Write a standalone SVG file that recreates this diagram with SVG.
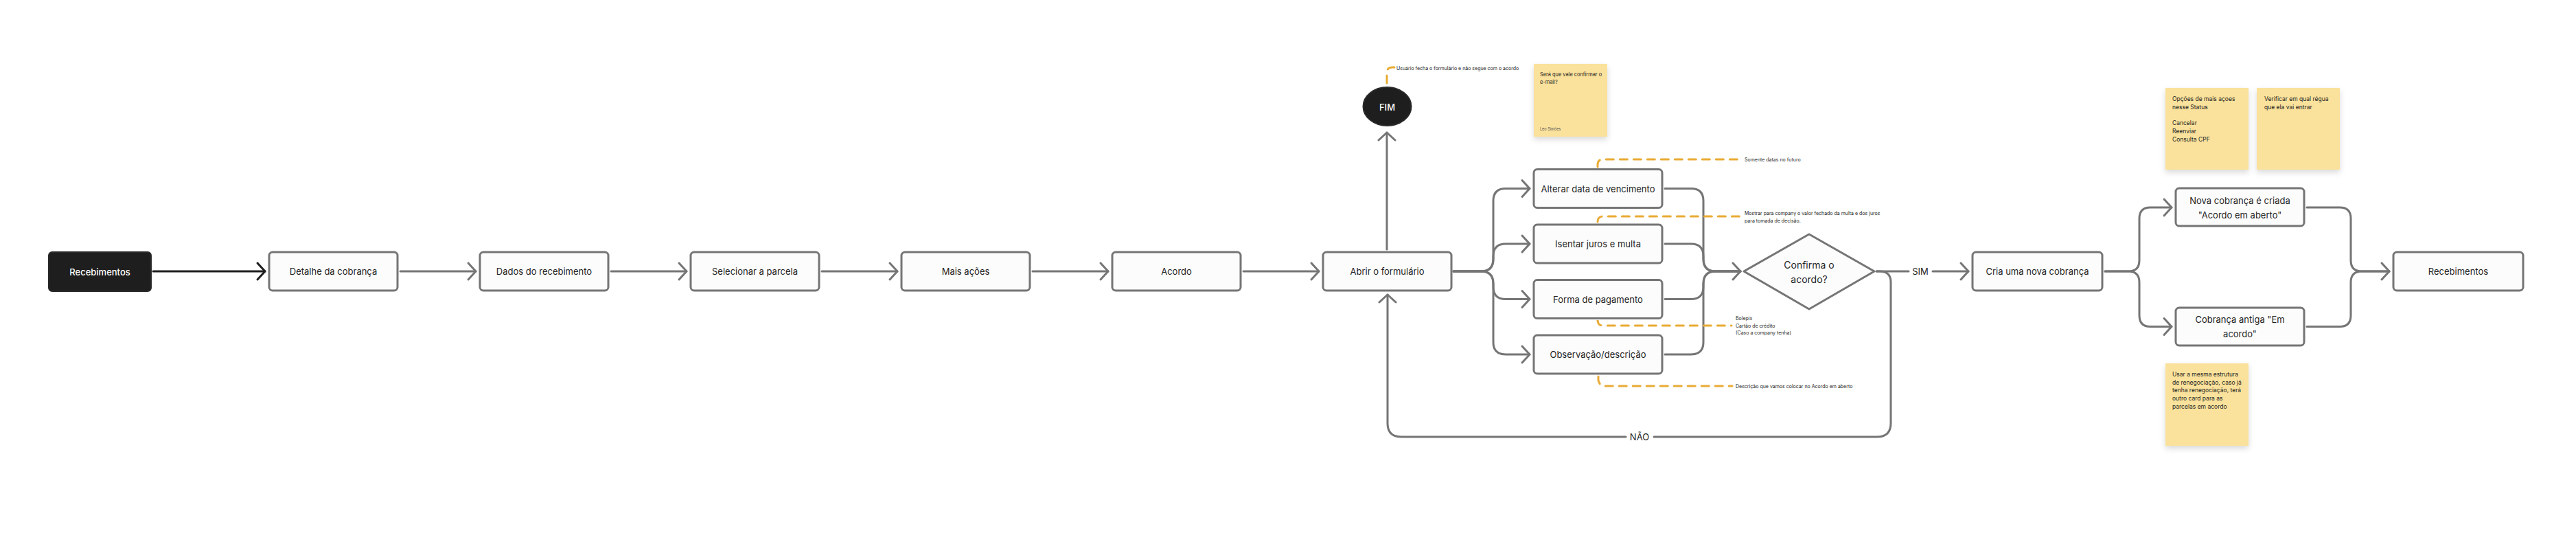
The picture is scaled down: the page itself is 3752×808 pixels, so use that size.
<svg xmlns="http://www.w3.org/2000/svg" width="3752" height="808" viewBox="0 0 3752 808">
<style>
.box{fill:#fcfcfc;stroke:#757575;stroke-width:3}
.dark{fill:#1e1e1e;stroke:#2a2a2a;stroke-width:2}
.lbl{font-family:Inter,"Liberation Sans",sans-serif;font-size:13px;fill:#1e1e1e;text-anchor:middle;dominant-baseline:central}
.wlbl{font-family:Inter,"Liberation Sans",sans-serif;font-size:13px;font-weight:500;fill:#ffffff;text-anchor:middle;dominant-baseline:central}
.con{fill:none;stroke:#757575;stroke-width:3;stroke-linecap:round;stroke-linejoin:round}
.conb{fill:none;stroke:#1e1e1e;stroke-width:3;stroke-linecap:round}
.note{fill:none;stroke:#e9ab35;stroke-width:3;stroke-linecap:round;stroke-dasharray:11 9}
.ann{font-family:Inter,"Liberation Sans",sans-serif;font-size:7px;fill:#1e1e1e;dominant-baseline:central}
.stk{fill:#fae29c}
.stxt{font-family:Inter,"Liberation Sans",sans-serif;font-size:8.5px;fill:#1e1e1e;dominant-baseline:central}
.stxt1{font-family:Inter,"Liberation Sans",sans-serif;font-size:7.4px;fill:#1e1e1e;dominant-baseline:central}
.auth{font-family:Inter,"Liberation Sans",sans-serif;font-size:5.5px;fill:#555555;dominant-baseline:central}
</style>
<defs>
<marker id="ah" viewBox="-15 -15 30 30" markerWidth="30" markerHeight="30" refX="0" refY="0" orient="auto" markerUnits="userSpaceOnUse">
<path d="M-11,-12 L0,0 L-11,12" fill="none" stroke="#757575" stroke-width="3" stroke-linecap="round" stroke-linejoin="round"/>
</marker>
<marker id="ahb" viewBox="-15 -15 30 30" markerWidth="30" markerHeight="30" refX="0" refY="0" orient="auto" markerUnits="userSpaceOnUse">
<path d="M-11,-12 L0,0 L-11,12" fill="none" stroke="#1e1e1e" stroke-width="3" stroke-linecap="round" stroke-linejoin="round"/>
</marker>
<filter id="sh" x="-20%" y="-20%" width="140%" height="150%">
<feDropShadow dx="0" dy="4" stdDeviation="4" flood-color="#000000" flood-opacity="0.15"/>
</filter>
</defs>
<rect width="3752" height="808" fill="#ffffff"/>

<g id="connectors">
<path class="conb" d="M223,395 H386" marker-end="url(#ahb)"/>
<path class="con" d="M583,395 H693" marker-end="url(#ah)"/>
<path class="con" d="M890,395 H1000" marker-end="url(#ah)"/>
<path class="con" d="M1197,395 H1307" marker-end="url(#ah)"/>
<path class="con" d="M1504,395 H1614" marker-end="url(#ah)"/>
<path class="con" d="M1811,395 H1921" marker-end="url(#ah)"/>
<path class="con" d="M2020,363 V193" marker-end="url(#ah)"/>
<path class="con" d="M2117,395 H2157 Q2175,395 2175,377 V292.5 Q2175,274.5 2193,274.5 H2228" marker-end="url(#ah)"/>
<path class="con" d="M2117,395 H2157 Q2175,395 2175,377 V373 Q2175,355 2193,355 H2228" marker-end="url(#ah)"/>
<path class="con" d="M2117,395 H2157 Q2175,395 2175,413 V417.5 Q2175,435.5 2193,435.5 H2228" marker-end="url(#ah)"/>
<path class="con" d="M2117,395 H2157 Q2175,395 2175,413 V498 Q2175,516 2193,516 H2228" marker-end="url(#ah)"/>
<path class="con" d="M2425,274.5 H2463 Q2481,274.5 2481,292.5 V377 Q2481,395 2499,395 H2535" marker-end="url(#ah)"/>
<path class="con" d="M2425,355 H2463 Q2481,355 2481,373 V377 Q2481,395 2499,395 H2535"/>
<path class="con" d="M2425,435.5 H2463 Q2481,435.5 2481,417.5 V413 Q2481,395 2499,395 H2535"/>
<path class="con" d="M2425,516 H2463 Q2481,516 2481,498 V413 Q2481,395 2499,395 H2535"/>
<path class="con" d="M2733,395 H2780"/>
<path class="con" d="M2815,395 H2867" marker-end="url(#ah)"/>
<text class="lbl" x="2797" y="395">SIM</text>
<path class="con" d="M2733,395 H2738 Q2754,395 2754,411 V616 Q2754,636 2734,636 H2409"/>
<path class="con" d="M2368,636 H2041 Q2021,636 2021,616 V429" marker-end="url(#ah)"/>
<text class="lbl" x="2388" y="636">NÃO</text>
<path class="con" d="M3066,395 H3100 Q3116,395 3116,379 V318 Q3116,302 3132,302 H3163" marker-end="url(#ah)"/>
<path class="con" d="M3066,395 H3100 Q3116,395 3116,411 V459 Q3116,475.5 3132,475.5 H3163" marker-end="url(#ah)"/>
<path class="con" d="M3360,302 H3408 Q3424,302 3424,318 V379 Q3424,395 3440,395 H3480" marker-end="url(#ah)"/>
<path class="con" d="M3360,475.5 H3408 Q3424,475.5 3424,459 V411 Q3424,395 3440,395 H3480"/>
</g>

<g id="annotations">
<path class="note" d="M2020,121 V106 Q2020,98 2028,98 H2031"/>
<text class="ann" x="2034" y="99">Usuário fecha o formulário e não segue com o acordo</text>
<path class="note" d="M2327,243 V240 Q2327,232 2335,232 H2535"/>
<text class="ann" x="2541" y="232">Somente datas no futuro</text>
<path class="note" d="M2327,323 V323 Q2327,315 2335,315 H2535"/>
<text class="ann" x="2541" y="310">Mostrar para company o valor fechado da multa e dos juros</text>
<text class="ann" x="2541" y="321">para tomada de decisão.</text>
<path class="note" d="M2327,467 V466 Q2327,474 2335,474 H2522"/>
<text class="ann" x="2528" y="463">Bolepix</text>
<text class="ann" x="2528" y="474">Cartão de crédito</text>
<text class="ann" x="2528" y="484">(Caso a company tenha)</text>
<path class="note" d="M2328,548 V554 Q2330,562 2338,562 H2523"/>
<text class="ann" x="2528" y="562">Descrição que vamos colocar no Acordo em aberto</text>
</g>

<g id="n-recebimentos">
<rect class="dark" x="71" y="367" width="149" height="57" rx="5"/>
<text class="wlbl" x="145.5" y="395.5">Recebimentos</text>
</g>
<g id="n-detalhe">
<rect class="box" x="392" y="367" width="187" height="56" rx="5"/>
<text class="lbl" x="485.5" y="395">Detalhe da cobrança</text>
</g>
<g id="n-dados">
<rect class="box" x="699" y="367" width="187" height="56" rx="5"/>
<text class="lbl" x="792.5" y="395">Dados do recebimento</text>
</g>
<g id="n-selecionar">
<rect class="box" x="1006" y="367" width="187" height="56" rx="5"/>
<text class="lbl" x="1099.5" y="395">Selecionar a parcela</text>
</g>
<g id="n-mais">
<rect class="box" x="1313" y="367" width="187" height="56" rx="5"/>
<text class="lbl" x="1406.5" y="395">Mais ações</text>
</g>
<g id="n-acordo">
<rect class="box" x="1620" y="367" width="187" height="56" rx="5"/>
<text class="lbl" x="1713.5" y="395">Acordo</text>
</g>
<g id="n-abrir">
<rect class="box" x="1927" y="367" width="187" height="56" rx="5"/>
<text class="lbl" x="2020.5" y="395">Abrir o formulário</text>
</g>
<g id="n-fim">
<ellipse cx="2020.5" cy="155" rx="35" ry="28" fill="#1e1e1e" stroke="#2a2a2a" stroke-width="2"/>
<text class="wlbl" x="2020.5" y="155.5">FIM</text>
</g>
<g id="n-alterar">
<rect class="box" x="2234" y="246.5" width="187" height="56" rx="5"/>
<text class="lbl" x="2327.5" y="274.5">Alterar data de vencimento</text>
</g>
<g id="n-isentar">
<rect class="box" x="2234" y="327" width="187" height="56" rx="5"/>
<text class="lbl" x="2327.5" y="355">Isentar juros e multa</text>
</g>
<g id="n-forma">
<rect class="box" x="2234" y="407.5" width="187" height="56" rx="5"/>
<text class="lbl" x="2327.5" y="435.5">Forma de pagamento</text>
</g>
<g id="n-obs">
<rect class="box" x="2234" y="488" width="187" height="56" rx="5"/>
<text class="lbl" x="2327.5" y="516">Observação/descrição</text>
</g>
<g id="n-confirma">
<path class="box" stroke-linejoin="round" d="M2540,395 L2635,341 L2730,395 L2635,450 Z"/>
<text class="lbl" style="font-size:14px" x="2635" y="385">Confirma o</text>
<text class="lbl" style="font-size:14px" x="2635" y="406">acordo?</text>
</g>
<g id="n-cria">
<rect class="box" x="2873" y="367" width="189" height="56" rx="5"/>
<text class="lbl" x="2967.5" y="395">Cria uma nova cobrança</text>
</g>
<g id="n-nova">
<rect class="box" x="3169" y="274" width="187" height="55" rx="5"/>
<text class="lbl" x="3262.5" y="292">Nova cobrança é criada</text>
<text class="lbl" x="3262.5" y="313">"Acordo em aberto"</text>
</g>
<g id="n-antiga">
<rect class="box" x="3169" y="448" width="187" height="55" rx="5"/>
<text class="lbl" x="3262.5" y="465">Cobrança antiga "Em</text>
<text class="lbl" x="3262.5" y="486">acordo"</text>
</g>
<g id="n-recebimentos2">
<rect class="box" x="3486" y="367" width="189" height="56" rx="5"/>
<text class="lbl" x="3580.5" y="395">Recebimentos</text>
</g>

<g id="sticky-email">
<rect class="stk" x="2234" y="93" width="107" height="106" filter="url(#sh)"/>
<text class="stxt1" x="2243" y="108">Será que vale confirmar o</text>
<text class="stxt1" x="2243" y="119">e-mail?</text>
<text class="auth" x="2243" y="188">Leo Simões</text>
</g>
<g id="sticky-opcoes">
<rect class="stk" x="3154" y="128" width="121" height="119" filter="url(#sh)"/>
<text class="stxt" x="3164" y="144">Opções de mais açoes</text>
<text class="stxt" x="3164" y="155.7">nesse Status</text>
<text class="stxt" x="3164" y="179.1">Cancelar</text>
<text class="stxt" x="3164" y="190.8">Reenviar</text>
<text class="stxt" x="3164" y="202.5">Consulta CPF</text>
</g>
<g id="sticky-regua">
<rect class="stk" x="3287" y="128" width="121" height="119" filter="url(#sh)"/>
<text class="stxt" x="3298" y="144">Verificar em qual régua</text>
<text class="stxt" x="3298" y="155.7">que ela vai entrar</text>
</g>
<g id="sticky-estrutura">
<rect class="stk" x="3154" y="529" width="121" height="120" filter="url(#sh)"/>
<text class="stxt" x="3164" y="545">Usar a mesma estrutura</text>
<text class="stxt" x="3164" y="556.7">de renegociação, caso já</text>
<text class="stxt" x="3164" y="568.4">tenha renegociação, terá</text>
<text class="stxt" x="3164" y="580.1">outro card para as</text>
<text class="stxt" x="3164" y="591.8">parcelas em acordo</text>
</g>
</svg>
